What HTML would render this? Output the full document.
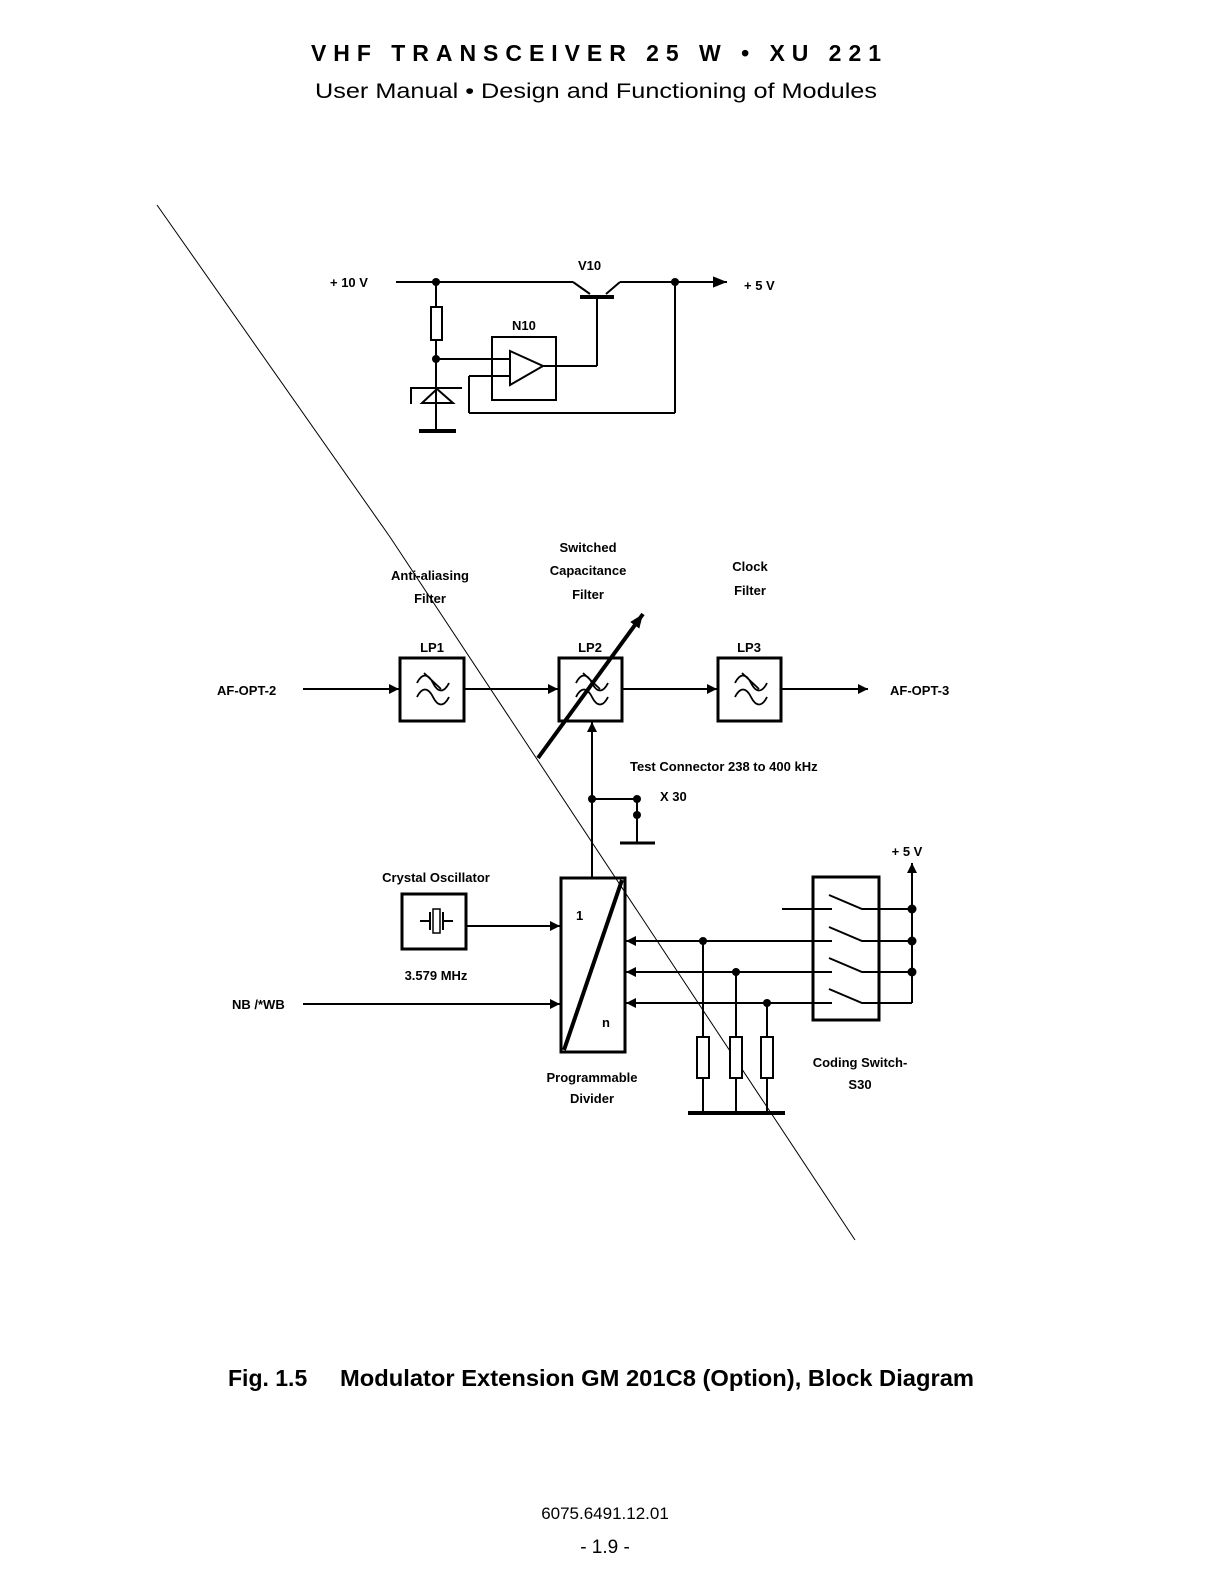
<!DOCTYPE html>
<html><head><meta charset="utf-8"><style>
html,body{margin:0;padding:0;background:#fff}
svg{display:block}
text{font-family:"Liberation Sans",sans-serif;fill:#000}
.b{font-weight:bold;font-size:13px}
</style></head><body>
<svg width="1224" height="1584" viewBox="0 0 1224 1584" xmlns="http://www.w3.org/2000/svg">
<defs>
<marker id="ar" viewBox="0 0 10 10" refX="10" refY="5" markerWidth="10" markerHeight="10" markerUnits="userSpaceOnUse" orient="auto"><path d="M0,0 L10,5 L0,10z" fill="#000"/></marker>
<marker id="ar2" viewBox="0 0 10 10" refX="10" refY="5" markerWidth="14" markerHeight="14" markerUnits="userSpaceOnUse" orient="auto"><path d="M0,1 L10,5 L0,9z" fill="#000"/></marker>
</defs>
<text x="596" y="61" font-size="23" font-weight="bold" text-anchor="middle" textLength="570" lengthAdjust="spacing">VHF TRANSCEIVER 25 W • XU 221</text>
<text x="596" y="98" font-size="21" text-anchor="middle" textLength="562" lengthAdjust="spacingAndGlyphs">User Manual • Design and Functioning of Modules</text>

<polyline points="157,205 390,537 855,1240" fill="none" stroke="#000" stroke-width="1"/>

<g stroke="#000" fill="none" stroke-width="2">
<line x1="396" y1="282" x2="573" y2="282"/>
<line x1="573" y1="282" x2="590" y2="294"/>
<line x1="580" y1="297" x2="614" y2="297" stroke-width="4"/>
<line x1="606" y1="294" x2="620" y2="282"/>
<line x1="620" y1="282" x2="727" y2="282" marker-end="url(#ar2)"/>
<line x1="436" y1="282" x2="436" y2="307"/>
<rect x="431" y="307" width="11" height="33"/>
<line x1="436" y1="340" x2="436" y2="431"/>
<line x1="436" y1="359" x2="510" y2="359"/>
<rect x="492" y="337" width="64" height="63"/>
<polygon points="510,351 543,366 510,385"/>
<line x1="543" y1="366" x2="597" y2="366"/>
<line x1="597" y1="366" x2="597" y2="297"/>
<line x1="675" y1="282" x2="675" y2="413"/>
<line x1="675" y1="413" x2="469" y2="413"/>
<line x1="469" y1="413" x2="469" y2="376"/>
<line x1="469" y1="376" x2="510" y2="376"/>
<polyline points="411,404 411,388 462,388"/>
<polygon points="422,403 453,403 437,389"/>
<line x1="419" y1="431" x2="456" y2="431" stroke-width="4"/>
</g>
<g fill="#000"><circle cx="436" cy="282" r="4"/><circle cx="436" cy="359" r="4"/><circle cx="675" cy="282" r="4"/></g>
<text x="330" y="287" class="b">+ 10 V</text>
<text x="578" y="270" class="b">V10</text>
<text x="744" y="290" class="b">+ 5 V</text>
<text x="512" y="330" class="b">N10</text>

<g class="b" text-anchor="middle">
<text x="430" y="580">Anti-aliasing</text><text x="430" y="603">Filter</text>
<text x="588" y="552">Switched</text><text x="588" y="575">Capacitance</text><text x="588" y="599">Filter</text>
<text x="750" y="571">Clock</text><text x="750" y="595">Filter</text>
<text x="432" y="652">LP1</text><text x="590" y="652">LP2</text><text x="749" y="652">LP3</text>
</g>
<text x="217" y="695" class="b">AF-OPT-2</text>
<text x="890" y="695" class="b">AF-OPT-3</text>
<g stroke="#000" fill="none" stroke-width="2">
<line x1="303" y1="689" x2="399" y2="689" marker-end="url(#ar)"/>
<line x1="465" y1="689" x2="558" y2="689" marker-end="url(#ar)"/>
<line x1="622" y1="689" x2="717" y2="689" marker-end="url(#ar)"/>
<line x1="781" y1="689" x2="868" y2="689" marker-end="url(#ar)"/>
<rect x="400" y="658" width="64" height="63" stroke-width="3"/>
<rect x="559" y="658" width="63" height="63" stroke-width="3"/>
<rect x="718" y="658" width="63" height="63" stroke-width="3"/>
<line x1="538" y1="758" x2="643" y2="614" stroke-width="4" marker-end="url(#ar2)"/>
<line x1="592" y1="877" x2="592" y2="722" marker-end="url(#ar)"/>
<line x1="592" y1="799" x2="637" y2="799"/>
<line x1="637" y1="799" x2="637" y2="843"/>
<line x1="620" y1="843" x2="655" y2="843" stroke-width="3"/>
</g>
<g stroke="#000" fill="none" stroke-width="1.8">
<path d="M417,683 c5,-10 11,-10 16,0 s11,10 16,0 M417,697 c5,-10 11,-10 16,0 s11,10 16,0 M424,673 L441,689"/>
<path d="M576,683 c5,-10 11,-10 16,0 s11,10 16,0 M576,697 c5,-10 11,-10 16,0 s11,10 16,0 M583,673 L600,689"/>
<path d="M735,683 c5,-10 11,-10 16,0 s11,10 16,0 M735,697 c5,-10 11,-10 16,0 s11,10 16,0 M742,673 L759,689"/>
</g>
<g fill="#000"><circle cx="592" cy="799" r="4"/><circle cx="637" cy="799" r="4"/><circle cx="637" cy="815" r="4"/></g>
<text x="630" y="771" class="b">Test Connector 238 to 400 kHz</text>
<text x="660" y="801" class="b">X 30</text>

<text x="436" y="882" class="b" text-anchor="middle">Crystal Oscillator</text>
<text x="436" y="980" class="b" text-anchor="middle">3.579 MHz</text>
<text x="232" y="1009" class="b">NB /*WB</text>
<text x="592" y="1082" class="b" text-anchor="middle">Programmable</text>
<text x="592" y="1103" class="b" text-anchor="middle">Divider</text>
<text x="860" y="1067" class="b" text-anchor="middle">Coding Switch-</text>
<text x="860" y="1089" class="b" text-anchor="middle">S30</text>
<text x="907" y="856" class="b" text-anchor="middle">+ 5 V</text>
<text x="576" y="920" class="b">1</text>
<text x="602" y="1027" class="b">n</text>
<g stroke="#000" fill="none" stroke-width="2">
<rect x="402" y="894" width="64" height="55" stroke-width="3"/>
<line x1="420" y1="921" x2="430" y2="921"/><line x1="430" y1="912" x2="430" y2="930"/>
<rect x="433" y="909" width="7" height="24" stroke-width="1.5"/>
<line x1="443" y1="912" x2="443" y2="930"/><line x1="443" y1="921" x2="453" y2="921"/>
<line x1="466" y1="926" x2="560" y2="926" marker-end="url(#ar)"/>
<line x1="303" y1="1004" x2="560" y2="1004" marker-end="url(#ar)"/>
<rect x="561" y="878" width="64" height="174" stroke-width="3"/>
<line x1="564" y1="1050" x2="622" y2="880" stroke-width="4"/>
<line x1="832" y1="941" x2="626" y2="941" marker-end="url(#ar)"/>
<line x1="832" y1="972" x2="626" y2="972" marker-end="url(#ar)"/>
<line x1="832" y1="1003" x2="626" y2="1003" marker-end="url(#ar)"/>
<line x1="782" y1="909" x2="832" y2="909"/>
<line x1="703" y1="941" x2="703" y2="1113"/>
<line x1="736" y1="972" x2="736" y2="1113"/>
<line x1="767" y1="1003" x2="767" y2="1113"/>
<rect x="697" y="1037" width="12" height="41" fill="#fff"/>
<rect x="730" y="1037" width="12" height="41" fill="#fff"/>
<rect x="761" y="1037" width="12" height="41" fill="#fff"/>
<line x1="688" y1="1113" x2="785" y2="1113" stroke-width="4"/>
<rect x="813" y="877" width="66" height="143" stroke-width="3"/>
<path d="M829,895 L862,909 L912,909 M829,927 L862,941 L912,941 M829,958 L862,972 L912,972 M829,989 L862,1003 L912,1003"/>
<line x1="912" y1="1003" x2="912" y2="863" marker-end="url(#ar)"/>
</g>
<g fill="#000"><circle cx="703" cy="941" r="4"/><circle cx="736" cy="972" r="4"/><circle cx="767" cy="1003" r="4"/>
<circle cx="912" cy="909" r="4.5"/><circle cx="912" cy="941" r="4.5"/><circle cx="912" cy="972" r="4.5"/></g>

<text x="228" y="1386" font-size="23" font-weight="bold">Fig. 1.5</text>
<text x="340" y="1386" font-size="23" font-weight="bold" textLength="634" lengthAdjust="spacingAndGlyphs">Modulator Extension  GM 201C8 (Option), Block Diagram</text>
<text x="605" y="1519" font-size="17" text-anchor="middle">6075.6491.12.01</text>
<text x="605" y="1553" font-size="19" text-anchor="middle">- 1.9 -</text>
</svg>
</body></html>
